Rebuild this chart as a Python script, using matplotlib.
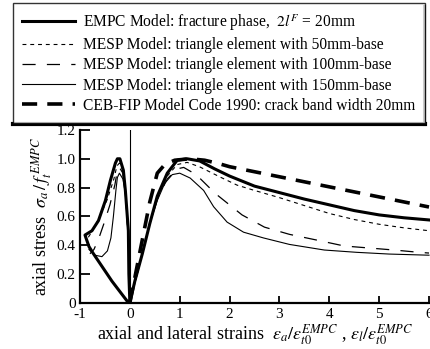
import matplotlib
matplotlib.use("Agg")
import matplotlib.pyplot as plt
from matplotlib.lines import Line2D

plt.rcParams['font.family'] = ['Liberation Serif', 'DejaVu Serif']
plt.rcParams['mathtext.fontset'] = 'stix'
plt.rcParams['axes.unicode_minus'] = False

# ---- data ----
# EMPC model (thick solid)
empc_ax_x = [0, 0.1, 0.25, 0.4, 0.55, 0.75, 0.95, 1.15, 1.4, 1.7, 2.0, 2.5, 3.0, 3.5, 4.0, 4.5, 5.0, 5.5, 6.0]
empc_ax_y = [0, 0.15, 0.34, 0.55, 0.74, 0.9, 0.99, 1.0, 0.985, 0.93, 0.88, 0.81, 0.765, 0.72, 0.68, 0.64, 0.61, 0.59, 0.575]
empc_lat_x = [0, -0.02, -0.03, -0.06, -0.09, -0.13, -0.2, -0.25, -0.29, -0.39, -0.49, -0.63, -0.76, -0.9,
              -0.82, -0.73, -0.36, -0.03]
empc_lat_y = [0, 0.2, 0.5, 0.64, 0.78, 0.92, 1.0, 1.0, 0.97, 0.85, 0.71, 0.57, 0.5, 0.47,
              0.39, 0.34, 0.15, 0.0]

# MESP, 50mm base (dotted)
m50_ax_x = [0, 0.25, 0.4, 0.55, 0.75, 0.95, 1.15, 1.4, 1.8, 2.15, 2.5, 3.0, 3.5, 4.0, 4.5, 5.0, 5.5, 6.0]
m50_ax_y = [0, 0.34, 0.55, 0.73, 0.88, 0.96, 0.975, 0.944, 0.875, 0.817, 0.78, 0.73, 0.675, 0.62, 0.578, 0.545, 0.52, 0.50]
m50_lat_x = [0, -0.03, -0.09, -0.14, -0.21, -0.26, -0.32, -0.45, -0.6, -0.75, -0.86]
m50_lat_y = [0, 0.45, 0.76, 0.92, 0.97, 0.95, 0.86, 0.72, 0.6, 0.5, 0.44]

# MESP, 100mm base (dashed)
m100_ax_x = [0, 0.25, 0.4, 0.55, 0.75, 0.95, 1.08, 1.33, 1.71, 2.25, 2.7, 3.2, 3.75, 4.3, 4.8, 5.3, 5.8, 6.0]
m100_ax_y = [0, 0.34, 0.55, 0.72, 0.86, 0.93, 0.94, 0.89, 0.76, 0.61, 0.525, 0.475, 0.435, 0.394, 0.38, 0.366, 0.35, 0.345]
m100_lat_x = [0, -0.03, -0.09, -0.14, -0.21, -0.25, -0.3, -0.4, -0.52, -0.62, -0.72, -0.8]
m100_lat_y = [0, 0.45, 0.76, 0.9, 0.94, 0.92, 0.82, 0.68, 0.55, 0.45, 0.37, 0.34]

# MESP, 150mm base (thin solid)
m150_ax_x = [0, 0.25, 0.4, 0.55, 0.7, 0.85, 1.0, 1.21, 1.48, 1.68, 1.95, 2.28, 2.68, 3.2, 3.9, 4.55, 5.2, 6.0]
m150_ax_y = [0, 0.34, 0.55, 0.71, 0.83, 0.89, 0.9, 0.866, 0.78, 0.667, 0.56, 0.49, 0.45, 0.405, 0.366, 0.35, 0.338, 0.33]
m150_lat_x = [0, -0.03, -0.09, -0.14, -0.21, -0.25, -0.28, -0.33, -0.38, -0.45, -0.56, -0.7, -0.82]
m150_lat_y = [0, 0.45, 0.76, 0.86, 0.9, 0.87, 0.78, 0.6, 0.45, 0.36, 0.32, 0.33, 0.37]

# CEB-FIP Model Code 1990 (thick dashed)
ceb_x = [0, 0.2, 0.4, 0.55, 0.7, 0.9, 1.2, 1.5, 1.8, 2.0, 2.5, 3.0, 3.5, 4.0, 4.5, 5.0, 5.5, 6.0]
ceb_y = [0, 0.35, 0.7, 0.9, 0.96, 0.99, 1.0, 0.99, 0.965, 0.945, 0.91, 0.875, 0.84, 0.805, 0.77, 0.735, 0.70, 0.665]

labels = [r'EMPC Model: fracture phase,  $2l^F$ = 20mm',
          'MESP Model: triangle element with 50mm-base',
          'MESP Model: triangle element with 100mm-base',
          'MESP Model: triangle element with 150mm-base',
          'CEB-FIP Model Code 1990: crack band width 20mm']
x_ticks = [-1, 0, 1, 2, 3, 4, 5, 6]
y_ticks = [0, 0.2, 0.4, 0.6, 0.8, 1.0, 1.2]
y_ticklabels = ['0', '0.2', '0.4', '0.6', '0.8', '1.0', '1.2']

fig = plt.figure(figsize=(4.30, 3.49), dpi=100)
ax = fig.add_axes([80 / 430, 46.3 / 349, 350 / 430, 172.7 / 349])

# styles
st_empc = dict(color='black', lw=2.2, solid_joinstyle='round')
st_m50 = dict(color='black', lw=0.8, dashes=(3.5, 3.5))
st_m100 = dict(color='black', lw=0.9, dashes=(10.5, 9))
st_m150 = dict(color='black', lw=0.8)
st_ceb = dict(color='black', lw=2.6, dashes=(4.2, 2.8))

ax.axvline(0, color='black', lw=0.8)

ax.plot(m150_lat_x, m150_lat_y, **st_m150)
ax.plot(m150_ax_x, m150_ax_y, **st_m150)
ax.plot(m100_lat_x, m100_lat_y, **st_m100)
ax.plot(m100_ax_x, m100_ax_y, **st_m100)
ax.plot(m50_lat_x, m50_lat_y, **st_m50)
ax.plot(m50_ax_x, m50_ax_y, **st_m50)
ax.plot(ceb_x, ceb_y, **st_ceb)
ax.plot(empc_lat_x, empc_lat_y, **st_empc)
ax.plot(empc_ax_x, empc_ax_y, **st_empc)

ax.set_xlim(-1, 6.02)
ax.set_ylim(0, 1.2)
ax.set_xticks(x_ticks)
ax.set_yticks(y_ticks)
ax.set_yticklabels(y_ticklabels)
ax.tick_params(direction='in', width=1.3, labelsize=11)
ax.tick_params(axis='x', length=5, pad=4)
ax.tick_params(axis='y', length=7, pad=3)
for side in ['top', 'right']:
    ax.spines[side].set_visible(False)
for side in ['left', 'bottom']:
    ax.spines[side].set_linewidth(1.6)

ax.set_ylabel(r'axial stress  $\sigma_a\,/\,f_t^{\,EMPC}$', fontsize=13, labelpad=2)
ax.set_xlabel(r'axial and lateral strains  $\varepsilon_a/\varepsilon_{t0}^{EMPC}$ , $\varepsilon_l/\varepsilon_{t0}^{EMPC}$',
              fontsize=13, labelpad=1)

# legend with heavy shadow edges
handles = [Line2D([], [], **st_empc), Line2D([], [], **st_m50), Line2D([], [], **st_m100),
           Line2D([], [], **st_m150), Line2D([], [], **st_ceb)]
leg = fig.legend(handles, labels, loc='upper left', bbox_to_anchor=(13 / 430, 1 - 3 / 349),
                 bbox_transform=fig.transFigure, fontsize=11.2, frameon=True, fancybox=False,
                 edgecolor='black', handlelength=3.4, handletextpad=0.5, labelspacing=0.27,
                 borderpad=0.6, borderaxespad=0)
leg.get_frame().set_linewidth(1.0)

fig.canvas.draw()
bb = leg.get_window_extent().transformed(fig.transFigure.inverted())
fig.add_artist(Line2D([bb.x0, bb.x1 + 0.002], [bb.y0 - 0.004, bb.y0 - 0.004],
                      transform=fig.transFigure, color='black', lw=3))
fig.add_artist(Line2D([bb.x1 - 0.001, bb.x1 - 0.001], [bb.y1 - 0.008, bb.y0 - 0.004],
                      transform=fig.transFigure, color='black', lw=2.2))

fig.savefig('out.png', dpi=100)
